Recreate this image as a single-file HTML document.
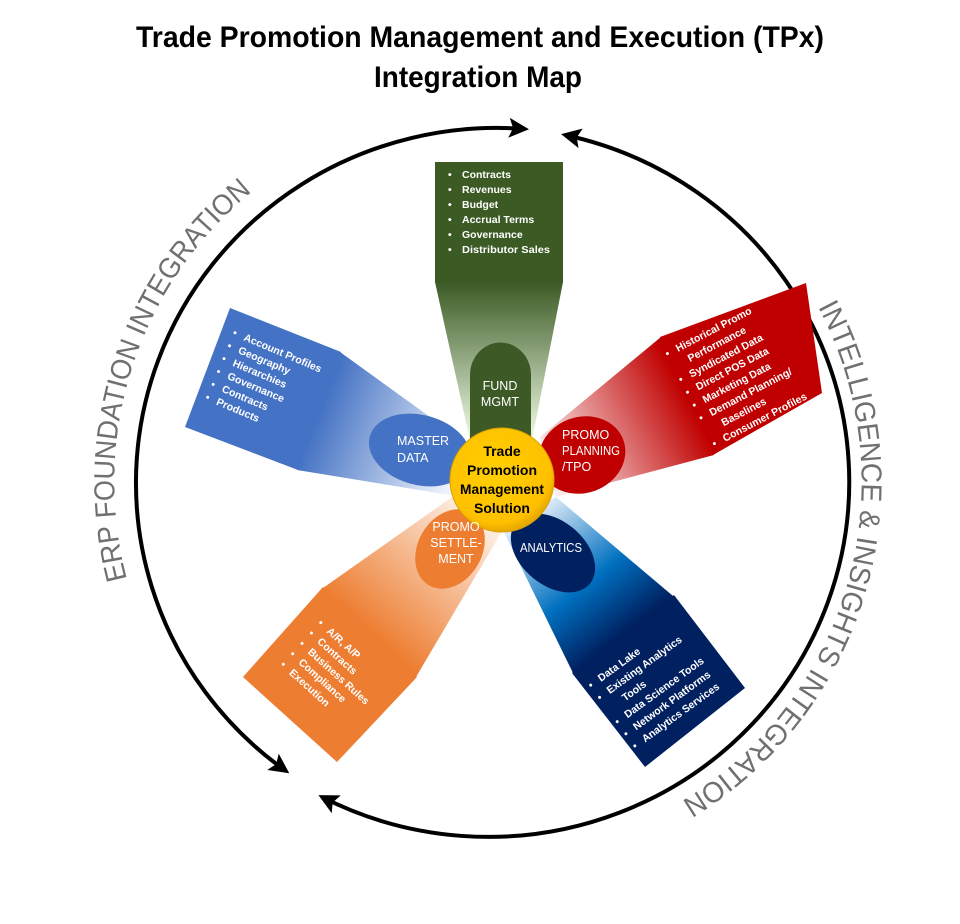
<!DOCTYPE html>
<html><head><meta charset="utf-8"><style>
html,body{margin:0;padding:0;background:#fff;}
svg{display:block;}
</style></head><body>
<svg width="960" height="924" viewBox="0 0 960 924" xmlns="http://www.w3.org/2000/svg">
<defs>
<marker id="ah" viewBox="0 0 10 10" refX="8" refY="5" markerWidth="5" markerHeight="5" orient="auto-start-reverse" markerUnits="strokeWidth">
<path d="M0,0 L10,5 L0,10 L2,5 z" fill="#000"/>
</marker>
<linearGradient id="gG" gradientUnits="userSpaceOnUse" x1="500" y1="282" x2="500" y2="430">
<stop offset="0" stop-color="#3b5a24"/><stop offset="1" stop-color="#e6f2da"/></linearGradient>
<linearGradient id="gB" gradientUnits="userSpaceOnUse" x1="320" y1="411" x2="456" y2="466">
<stop offset="0" stop-color="#4472c4"/><stop offset="1" stop-color="#eef3fb"/></linearGradient>
<linearGradient id="gR" gradientUnits="userSpaceOnUse" x1="686" y1="396" x2="548" y2="467">
<stop offset="0" stop-color="#c00000"/><stop offset="1" stop-color="#fbeeee"/></linearGradient>
<linearGradient id="gO" gradientUnits="userSpaceOnUse" x1="370" y1="632" x2="478" y2="512">
<stop offset="0" stop-color="#ed7d31"/><stop offset="1" stop-color="#fdf0e6"/></linearGradient>
<linearGradient id="gN" gradientUnits="userSpaceOnUse" x1="623" y1="634" x2="528" y2="512">
<stop offset="0" stop-color="#002060"/><stop offset="0.4" stop-color="#0070c0"/><stop offset="1" stop-color="#e8f0fa"/></linearGradient>
<radialGradient id="gY" cx="0.45" cy="0.4" r="0.6">
<stop offset="0" stop-color="#ffd000"/><stop offset="0.85" stop-color="#ffc000"/><stop offset="1" stop-color="#e6a800"/></radialGradient>
<path id="tl" d="M 127 579 A 375 375 0 0 1 258 187" fill="none"/>
<path id="tr" d="M 818 307 A 373 373 0 0 1 675 805" fill="none"/>
</defs>

<g font-family="'Liberation Sans Narrow','Liberation Sans',sans-serif" font-weight="bold" fill="#000" text-anchor="middle">
<text x="480" y="47" font-size="30" textLength="688" lengthAdjust="spacingAndGlyphs">Trade Promotion Management and Execution (TPx)</text>
<text x="478" y="87" font-size="30" textLength="208" lengthAdjust="spacingAndGlyphs">Integration Map</text>
</g>

<path d="M 525 129 A 361 355 0 0 0 286 771" fill="none" stroke="#000" stroke-width="4" marker-start="url(#ah)" marker-end="url(#ah)"/>
<path d="M 565 135 A 361 355 0 1 1 322 797" fill="none" stroke="#000" stroke-width="4" marker-start="url(#ah)" marker-end="url(#ah)"/>

<text font-family="'Liberation Sans',sans-serif" font-size="29" fill="#707070">
<textPath href="#tl" textLength="430" lengthAdjust="spacingAndGlyphs">ERP FOUNDATION INTEGRATION</textPath></text>
<text font-family="'Liberation Sans',sans-serif" font-size="29" fill="#707070">
<textPath href="#tr" textLength="565" lengthAdjust="spacingAndGlyphs">INTELLIGENCE &amp; INSIGHTS INTEGRATION</textPath></text>

<rect x="435" y="162" width="128" height="121" fill="#3b5a24"/>
<polygon points="435,282 563,282 532,440 470,440" fill="url(#gG)"/>
<polygon points="230,308 341,352 298,470 185,427" fill="#4472c4"/>
<polygon points="340,352 297,470 456,496 462,440" fill="url(#gB)"/>
<polygon points="660,337 806,283 822,393 713,455" fill="#c00000"/>
<polygon points="661,337 714,455 556,497 540,437" fill="url(#gR)"/>
<polygon points="323,587 417,677 337,762 243,677" fill="#ed7d31"/>
<polygon points="323,588 416,677 504,528 452,497" fill="url(#gO)"/>
<polygon points="572,673 674,595 745,688 645,767" fill="#002060"/>
<polygon points="573,673 673,596 556,497 502,528" fill="url(#gN)"/>

<path d="M470,440 L470,375 A30,32 0 0 1 531,375 L531,440 Z" fill="#3d5a26"/>
<ellipse cx="420" cy="450" rx="52" ry="35" transform="rotate(15 420 450)" fill="#4472c4"/>
<ellipse cx="582" cy="455" rx="44" ry="38" transform="rotate(-20 582 455)" fill="#c00000"/>
<ellipse cx="450" cy="549" rx="32" ry="42" transform="rotate(30 450 549)" fill="#ed7d31"/>
<ellipse cx="553" cy="553" rx="48" ry="32" transform="rotate(40 553 553)" fill="#002060"/>

<circle cx="502" cy="480" r="52" fill="url(#gY)" stroke="#d9a300" stroke-width="1"/>
<g font-family="'Liberation Sans Narrow','Liberation Sans',sans-serif" font-weight="bold" font-size="14" fill="#000" text-anchor="middle">
<text x="502" y="456">Trade</text>
<text x="502" y="475">Promotion</text>
<text x="502" y="494" textLength="84" lengthAdjust="spacingAndGlyphs">Management</text>
<text x="502" y="513">Solution</text>
</g>

<g font-family="'Liberation Sans Narrow','Liberation Sans',sans-serif" font-size="12.5" fill="#fff">
<text x="500" y="390" text-anchor="middle">FUND</text>
<text x="500" y="406" text-anchor="middle">MGMT</text>
<text x="397" y="445">MASTER</text>
<text x="397" y="462">DATA</text>
<text x="562" y="439">PROMO</text>
<text x="562" y="455" textLength="58" lengthAdjust="spacingAndGlyphs">PLANNING</text>
<text x="562" y="471">/TPO</text>
<text x="456" y="531" text-anchor="middle">PROMO</text>
<text x="456" y="547" text-anchor="middle">SETTLE-</text>
<text x="456" y="563" text-anchor="middle">MENT</text>
<text x="551" y="552" text-anchor="middle" textLength="62" lengthAdjust="spacingAndGlyphs">ANALYTICS</text>
</g>

<g font-family="'Liberation Sans',sans-serif" font-weight="bold" font-size="10.5" fill="#fff">
<g>
<text x="448" y="178">•</text><text x="462" y="178">Contracts</text>
<text x="448" y="193">•</text><text x="462" y="193">Revenues</text>
<text x="448" y="208">•</text><text x="462" y="208">Budget</text>
<text x="448" y="223">•</text><text x="462" y="223">Accrual Terms</text>
<text x="448" y="238">•</text><text x="462" y="238">Governance</text>
<text x="448" y="253">•</text><text x="462" y="253" textLength="88" lengthAdjust="spacingAndGlyphs">Distributor Sales</text>
</g>
<g transform="translate(243,340) rotate(23)">
<text x="-12" y="0">•</text><text x="0" y="0">Account Profiles</text>
<text x="-12" y="14">•</text><text x="0" y="14">Geography</text>
<text x="-12" y="28">•</text><text x="0" y="28">Hierarchies</text>
<text x="-12" y="42">•</text><text x="0" y="42">Governance</text>
<text x="-12" y="56">•</text><text x="0" y="56">Contracts</text>
<text x="-12" y="70">•</text><text x="0" y="70">Products</text>
</g>
<g transform="translate(678,352) rotate(-27.6)">
<text x="-12" y="0">•</text><text x="0" y="0">Historical  Promo</text>
<text x="6" y="14.5">Performance</text>
<text x="-12" y="29">•</text><text x="0" y="29">Syndicated Data</text>
<text x="-12" y="43.5">•</text><text x="0" y="43.5">Direct POS Data</text>
<text x="-12" y="58">•</text><text x="0" y="58">Marketing Data</text>
<text x="-12" y="72.5">•</text><text x="0" y="72.5">Demand Planning/</text>
<text x="6" y="87">Baselines</text>
<text x="-12" y="101.5">•</text><text x="0" y="101.5">Consumer Profiles</text>
</g>
<g transform="translate(326,632) rotate(42)">
<text x="-12" y="0">•</text><text x="0" y="0">A/R, A/P</text>
<text x="-12" y="14">•</text><text x="0" y="14">Contracts</text>
<text x="-12" y="28">•</text><text x="0" y="28">Business Rules</text>
<text x="-12" y="42">•</text><text x="0" y="42">Compliance</text>
<text x="-12" y="56">•</text><text x="0" y="56">Execution</text>
</g>
<g transform="translate(601,682) rotate(-36)">
<text x="-12" y="0">•</text><text x="0" y="0">Data Lake</text>
<text x="-12" y="15">•</text><text x="0" y="15">Existing Analytics</text>
<text x="8" y="30">Tools</text>
<text x="-12" y="45">•</text><text x="0" y="45">Data Science Tools</text>
<text x="-12" y="60">•</text><text x="0" y="60">Network Platforms</text>
<text x="-12" y="75">•</text><text x="0" y="75">Analytics Services</text>
</g>
</g>
</svg>
</body></html>
